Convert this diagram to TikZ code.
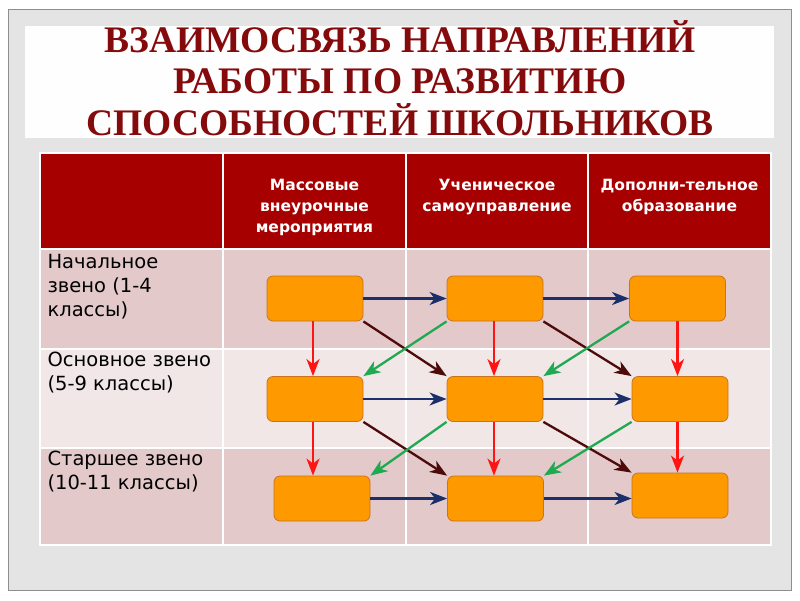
\documentclass[tikz,border=0pt]{standalone}
\usepackage{fontspec}
\usetikzlibrary{arrows.meta}
\newfontfamily\titlefont{Liberation Serif}
\newfontfamily\cellfont{DejaVu Sans}
\definecolor{slidegray}{HTML}{E4E4E4}
\definecolor{framegray}{HTML}{8E8E8E}
\definecolor{titlered}{HTML}{850A0C}
\definecolor{headred}{HTML}{A60000}
\definecolor{rowdark}{HTML}{E3C9CA}
\definecolor{rowlight}{HTML}{F1E7E7}
\definecolor{boxorange}{HTML}{FF9900}
\definecolor{boxedge}{HTML}{C8741E}
\definecolor{arrblue}{HTML}{1B2F6B}
\definecolor{arrred}{HTML}{FF1414}
\definecolor{arrbrown}{HTML}{4D0A0A}
\definecolor{arrgreen}{HTML}{1FAA52}
\begin{document}
\begin{tikzpicture}[x=1pt,y=-1pt,
    cellbox/.style={draw=boxedge,line width=0.8pt,fill=boxorange,rounded corners=6pt,
      minimum width=96pt,minimum height=45pt,inner sep=0pt},
    headtext/.style={anchor=north,align=center,text=white,
      font=\cellfont\bfseries\fontsize{15.5}{21}\selectfont},
    rowtext/.style={anchor=north west,align=left,text=black,
      font=\cellfont\fontsize{19.5}{24}\selectfont},
    link/.style={line width=2.3pt,-{Stealth[length=17pt,width=13pt,inset=5pt]}}]
  % slide
  \useasboundingbox (0,0) rectangle (800,600);
  \fill[white] (0,0) rectangle (800,600);
  \draw[framegray,fill=slidegray,line width=1pt] (8,9) rectangle (791,590);
  \fill[white!97!slidegray] (25,26) rectangle (774,138);
  \node[align=center,text=titlered,font=\titlefont\bfseries\fontsize{37.5}{41.5}\selectfont]
    (title) at (400,78) {ВЗАИМОСВЯЗЬ НАПРАВЛЕНИЙ\\РАБОТЫ ПО РАЗВИТИЮ\\СПОСОБНОСТЕЙ ШКОЛЬНИКОВ};
  % table
  \fill[headred] (40,153) rectangle (771,249);
  \fill[rowdark] (40,249) rectangle (771,349);
  \fill[rowlight] (40,349) rectangle (771,448);
  \fill[rowdark] (40,448) rectangle (771,545);
  \draw[white,line width=1.5pt] (40,153) rectangle (771,545)
    (40,249) -- (771,249) (40,349) -- (771,349) (40,448) -- (771,448)
    (223,153) -- (223,545) (406,153) -- (406,545) (588,153) -- (588,545);
  \node[headtext] (mass) at (314.5,176) {Массовые\\внеурочные\\мероприятия};
  \node[headtext] (self) at (497,176) {Ученическое\\самоуправление};
  \node[headtext] (extra) at (679.5,176) {Дополни-тельное\\образование};
  \node[rowtext] (primary) at (44,251) {Начальное\\звено (1-4\\классы)};
  \node[rowtext] (middle) at (44,348) {Основное звено\\(5-9 классы)};
  \node[rowtext] (senior) at (44,447) {Старшее звено\\(10-11 классы)};
  % boxes
  \node[cellbox] (b11) at (315,298.5) {};
  \node[cellbox] (b12) at (495,298.5) {};
  \node[cellbox] (b13) at (677.5,298.5) {};
  \node[cellbox] (b21) at (315,399) {};
  \node[cellbox] (b22) at (495,399) {};
  \node[cellbox] (b23) at (680,399) {};
  \node[cellbox] (b31) at (322,498.5) {};
  \node[cellbox] (b32) at (495.5,498.5) {};
  \node[cellbox] (b33) at (680,495.5) {};
  % arrows
  \draw[link,arrblue] (b11) -- (b12);
  \draw[link,arrblue] (b12) -- (b13);
  \draw[link,arrblue] (b21) -- (b22);
  \draw[link,arrblue] (b22) -- (b23);
  \draw[link,arrblue] (b31) -- (b32);
  \draw[link,arrblue] (b32.east) -- (b33.west |- b32.east);
  \draw[link,arrred] ([xshift=-2pt]b11.south) -- ([xshift=-2pt]b21.north);
  \draw[link,arrred] ([xshift=-2pt]b21.south) -- ([xshift=-2pt]b21.south |- b31.north);
  \draw[link,arrred] ([xshift=-1pt]b12.south) -- ([xshift=-1pt]b22.north);
  \draw[link,arrred] ([xshift=-1pt]b22.south) -- ([xshift=-1pt]b22.south |- b32.north);
  \draw[link,arrred] (b13.south) -- (b13.south |- b23.north);
  \draw[link,arrred] (b13.south |- b23.south) -- (b13.south |- b33.north);
  \draw[link,arrbrown] (b11.south east) -- (b22.north west);
  \draw[link,arrbrown] (b12.south east) -- (b23.north west);
  \draw[link,arrbrown] (b21.south east) -- (b32.north west);
  \draw[link,arrbrown] (b22.south east) -- (b33.north west);
  \draw[link,arrgreen] (b12.south west) -- (b21.north east);
  \draw[link,arrgreen] (b13.south west) -- (b22.north east);
  \draw[link,arrgreen] (b22.south west) -- (b31.north east);
  \draw[link,arrgreen] (b23.south west) -- (b32.north east);
\end{tikzpicture}
\end{document}
